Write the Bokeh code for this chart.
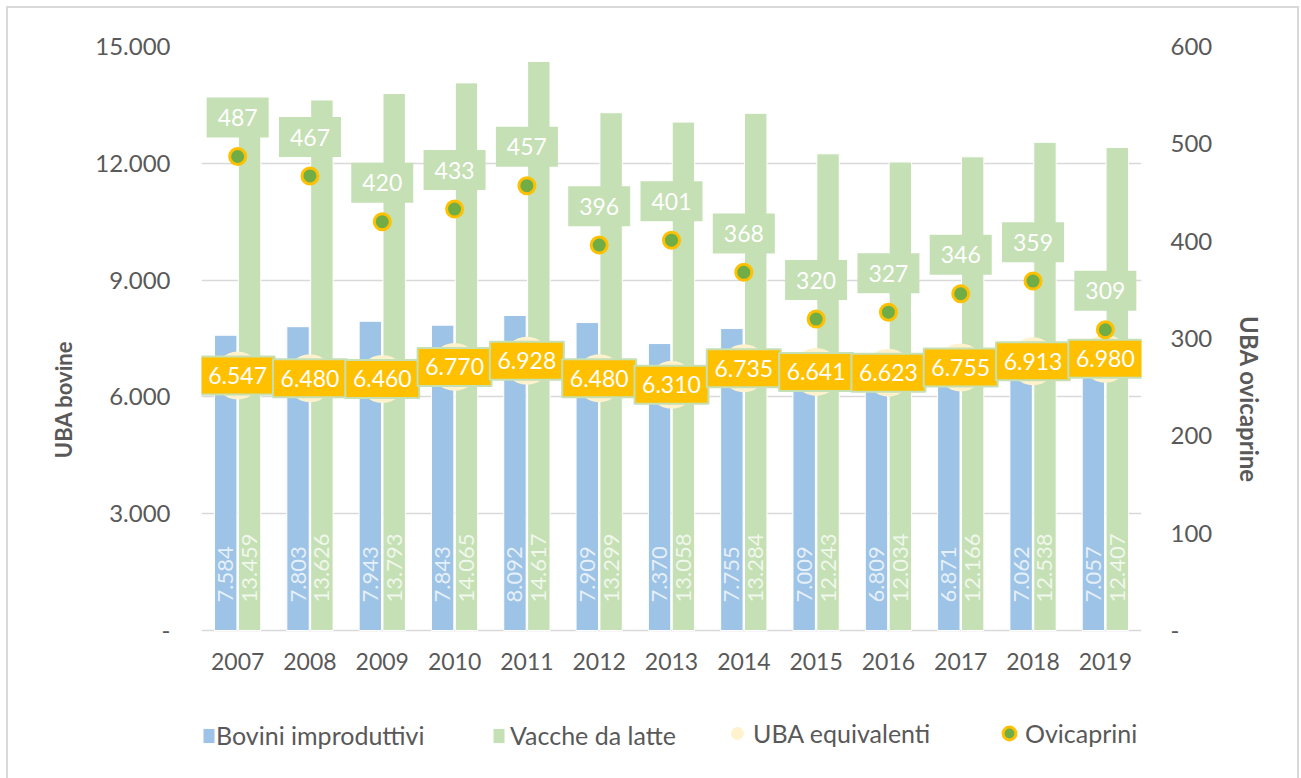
import math
from bokeh.plotting import figure
from bokeh.models import (ColumnDataSource, FactorRange, Range1d, LinearAxis,
                          FixedTicker, Legend, LegendItem)
from bokeh.transform import dodge
from bokeh.embed import file_html
from bokeh.resources import INLINE
from bokeh.core.properties import value

# ---------------- data ----------------
years = ["2007", "2008", "2009", "2010", "2011", "2012", "2013",
         "2014", "2015", "2016", "2017", "2018", "2019"]
bovini_improduttivi = [7584, 7803, 7943, 7843, 8092, 7909, 7370,
                       7755, 7009, 6809, 6871, 7062, 7057]
vacche_da_latte = [13459, 13626, 13793, 14065, 14617, 13299, 13058,
                   13284, 12243, 12034, 12166, 12538, 12407]
uba_equivalenti = [6547, 6480, 6460, 6770, 6928, 6480, 6310,
                   6735, 6641, 6623, 6755, 6913, 6980]
ovicaprini = [487, 467, 420, 433, 457, 396, 401, 368, 320, 327, 346, 359, 309]
left_ticks = [0, 3000, 6000, 9000, 12000, 15000]
right_ticks = [0, 100, 200, 300, 400, 500, 600]
left_max = 15000
right_max = 600


def fmt_it(n):
    return f"{n:,}".replace(",", ".")


src = ColumnDataSource(dict(
    year=years,
    bovini=bovini_improduttivi,
    vacche=vacche_da_latte,
    uba=uba_equivalenti,
    ovi=ovicaprini,
    bov_lbl=[fmt_it(v) for v in bovini_improduttivi],
    vac_lbl=[fmt_it(v) for v in vacche_da_latte],
    uba_lbl=[fmt_it(v) for v in uba_equivalenti],
    ovi_lbl=[str(v) for v in ovicaprini],
))

FONT = "Lato"
GREY = "#595959"
BLUE = "#9DC3E6"
GREEN = "#C5E0B4"
ORANGE = "#FFC000"
DKGREEN = "#70AD47"
PALE = "#FFF2CC"

# frame: 584 px of value area + 122 px strip below zero for year labels & legend
PLOT_H = 584
STRIP = 122
p = figure(x_range=FactorRange(*years),
           y_range=Range1d(-left_max * STRIP / PLOT_H, left_max),
           frame_width=940, frame_height=PLOT_H + STRIP,
           output_backend="svg", toolbar_location=None,
           min_border_left=193, min_border_right=156,
           min_border_top=38, min_border_bottom=26)
p.margin = (8, 0, 0, 8)
p.styles = {"outline": "2px solid #d9d9d9"}
p.extra_y_ranges = {"ovi": Range1d(-right_max * STRIP / PLOT_H, right_max)}
p.outline_line_color = None
p.background_fill_color = "white"
p.border_fill_color = "white"

# grid
p.xgrid.grid_line_color = None
p.ygrid.ticker = FixedTicker(ticks=left_ticks)
p.ygrid.grid_line_color = "#d9d9d9"
p.ygrid.grid_line_width = 1.5

# bars
OFF = 0.165
b1 = p.vbar(x=dodge("year", -OFF, range=p.x_range), top="bovini", width=0.31,
            source=src, fill_color=BLUE, line_color="white", line_width=1)
b2 = p.vbar(x=dodge("year", OFF, range=p.x_range), top="vacche", width=0.31,
            source=src, fill_color=GREEN, line_color="white", line_width=1)

# bar labels (rotated, inside base)
for off, col in ((-OFF, "bov_lbl"), (OFF, "vac_lbl")):
    p.text(x=dodge("year", off, range=p.x_range), y=0, text=col, source=src,
           angle=math.pi / 2, text_align="left", text_baseline="middle",
           y_offset=-28, text_font=value(FONT), text_font_size="22px",
           text_color="white", text_alpha=0.75)

# category (year) labels under the bars
p.text(x="year", y=0, text="year", source=src, text_align="center",
       text_baseline="top", y_offset=22, text_font=value(FONT),
       text_font_size="23px", text_color=GREY)

# UBA equivalenti markers + labels
u = p.scatter(x="year", y="uba", source=src, size=48, marker="circle",
              fill_color=PALE, line_color=None)
p.rect(x="year", y="uba", width=74, height=38, width_units="screen",
       height_units="screen", source=src, fill_color=ORANGE,
       line_color=GREEN, line_width=2)
p.text(x="year", y="uba", text="uba_lbl", source=src, text_align="center",
       text_baseline="middle", text_font=value(FONT), text_font_size="23px",
       text_color="white")

# Ovicaprini markers + labels (right axis)
o = p.scatter(x="year", y="ovi", source=src, y_range_name="ovi", size=16,
              marker="circle", fill_color=DKGREEN, line_color=ORANGE,
              line_width=3)
p.rect(x="year", y=dodge("ovi", 40), y_range_name="ovi", width=62, height=40,
       width_units="screen", height_units="screen", source=src,
       fill_color=GREEN, line_color=None)
p.text(x="year", y=dodge("ovi", 40), y_range_name="ovi", text="ovi_lbl",
       source=src, text_align="center", text_baseline="middle",
       text_font=value(FONT), text_font_size="23px", text_color="white")

# axes
p.xaxis.visible = False

ya = p.yaxis[0]
ya.ticker = FixedTicker(ticks=left_ticks)
ya.bounds = (0, left_max)
ya.major_label_overrides = {t: ("-" if t == 0 else fmt_it(t)) for t in left_ticks}
ya.axis_label = "UBA bovine"

ra = LinearAxis(y_range_name="ovi", ticker=FixedTicker(ticks=right_ticks),
                axis_label="UBA ovicaprine", bounds=(0, right_max))
ra.major_label_overrides = {t: ("-" if t == 0 else str(t)) for t in right_ticks}
p.add_layout(ra, "right")

for ax, st, lst, fs in ((ya, 31, 15, "22px"), (ra, 29, 20, "24px")):
    ax.axis_line_color = None
    ax.major_tick_line_color = None
    ax.minor_tick_line_color = None
    ax.major_tick_out = 0
    ax.major_label_standoff = st
    ax.major_label_text_font = FONT
    ax.major_label_text_font_size = "24px"
    ax.major_label_text_color = GREY
    ax.axis_label_standoff = lst
    ax.axis_label_text_font = FONT
    ax.axis_label_text_font_size = fs
    ax.axis_label_text_font_style = "bold"
    ax.axis_label_text_color = GREY


# legends (one per item, placed inside the strip below the zero line)
def add_legend(label, rend, loc, gw, gh, standoff):
    lg = Legend(items=[LegendItem(label=label, renderers=[rend])],
                location=loc, orientation="horizontal",
                glyph_width=gw, glyph_height=gh, label_standoff=standoff,
                padding=0, margin=0, border_line_color=None,
                background_fill_alpha=0, label_text_font=FONT,
                label_text_font_size="25px", label_text_color=GREY)
    p.add_layout(lg, "center")


add_legend("Bovini improduttivi", b1, (0, 2), 15, 19, -2)
add_legend("Vacche da latte", b2, (290, 2), 15, 19, 4)
add_legend("UBA equivalenti", u, (520, 3), 32, 32, -3)
add_legend("Ovicaprini", o, (792, 3), 32, 32, -1)

open("out.html", "w").write(file_html(p, INLINE))
